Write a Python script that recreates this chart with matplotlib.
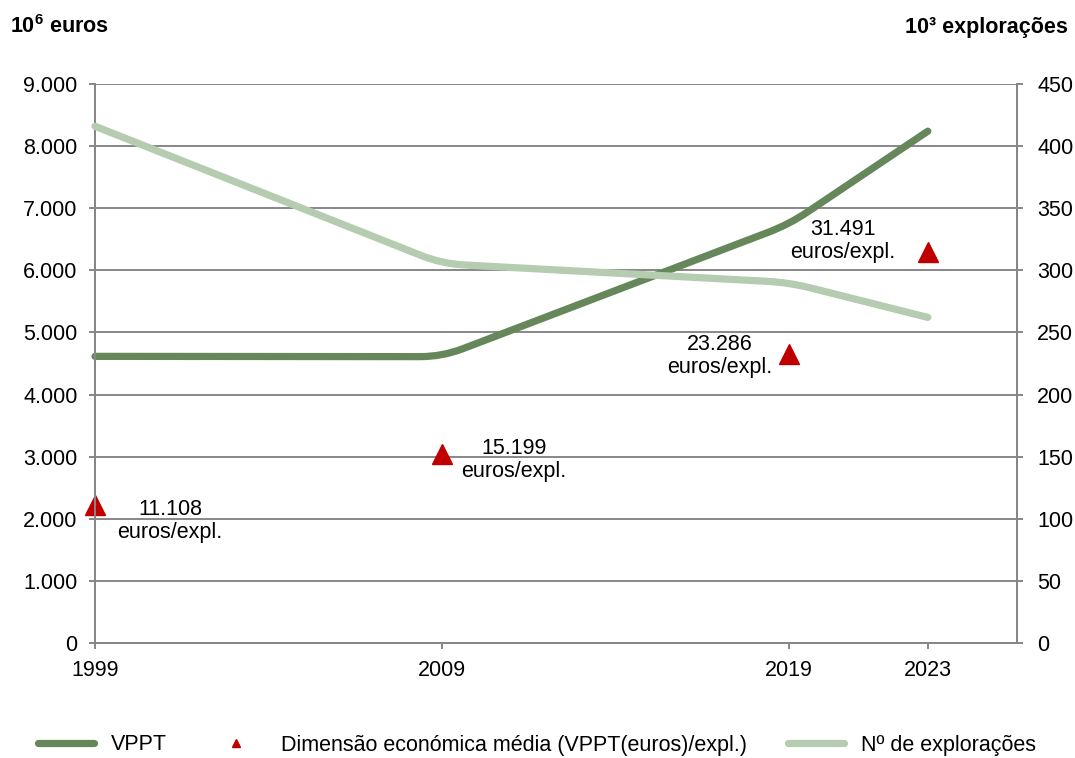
import numpy as np
import matplotlib.pyplot as plt
from matplotlib.path import Path
from matplotlib.patches import PathPatch
from matplotlib.lines import Line2D
from matplotlib.ticker import FuncFormatter

plt.rcParams['font.family'] = ['Liberation Sans', 'DejaVu Sans']
plt.rcParams['mathtext.fontset'] = 'custom'
plt.rcParams['mathtext.rm'] = 'Liberation Sans'
plt.rcParams['mathtext.bf'] = 'Liberation Sans:bold'

# data
years = [1999, 2009, 2019, 2023]
vppt = [4615, 4610, 6740, 8240]              # 10^6 euros (left axis)
exploracoes = [416.0, 305.3, 290.2, 262.1]   # 10^3 explorações (right axis)
dimensao = [11108, 15199, 23286, 31491]      # euros/expl. (drawn at value/5 on left axis)
dim_labels = ['11.108', '15.199', '23.286', '31.491']

c_vppt = '#66875A'
c_expl = '#B5CCB0'
c_tri = '#C00000'
c_grid = '#878787'
FS = 15.5


def rounded_path(a, x, y, r=22):
    # polyline with small rounded corners (Excel "smoothed line" look)
    pts = a.transData.transform(np.column_stack([x, y]))
    verts = [pts[0]]
    codes = [Path.MOVETO]
    for i in range(1, len(pts) - 1):
        p0, p1, p2 = pts[i - 1], pts[i], pts[i + 1]
        u = (p0 - p1) / np.hypot(*(p0 - p1))
        w = (p2 - p1) / np.hypot(*(p2 - p1))
        verts += [p1 + u * r, p1, p1 + w * r]
        codes += [Path.LINETO, Path.CURVE3, Path.CURVE3]
    verts.append(pts[-1])
    codes.append(Path.LINETO)
    verts = a.transData.inverted().transform(np.array(verts))
    return Path(verts, codes)


fig = plt.figure(figsize=(10.75, 7.58), dpi=100)
ax = fig.add_axes([95 / 1075, 1 - 643 / 758, (1017 - 95) / 1075, (643 - 84) / 758])
ax2 = ax.twinx()

ax.set_xlim(1999, 2025.57)
ax.set_ylim(0, 9000)
ax2.set_ylim(0, 450)

ax.set_yticks(np.arange(0, 9001, 1000))
ax2.set_yticks(np.arange(0, 451, 50))
ax.yaxis.set_major_formatter(FuncFormatter(lambda v, p: f'{v:,.0f}'.replace(',', '.')))
ax.set_xticks(years)
ax.set_xticklabels([str(y) for y in years])
ax.grid(axis='y', color=c_grid, lw=1.4)
ax.set_axisbelow(True)

for a in (ax, ax2):
    for s in a.spines.values():
        s.set_color(c_grid)
        s.set_linewidth(1.4)
    a.spines['top'].set_visible(False)
    a.tick_params(colors=c_grid, labelcolor='black', labelsize=FS, width=1.4, length=4.5)
ax.tick_params(axis='x', pad=8)
ax.tick_params(axis='y', pad=8)
ax2.tick_params(axis='y', pad=10)

ax.add_patch(PathPatch(rounded_path(ax, years, vppt), fill=False, ec=c_vppt, lw=5.2,
                       capstyle='round', joinstyle='round', clip_on=False, zorder=3))
ax.plot(years, np.array(dimensao) / 5, '^', color=c_tri, ms=14, ls='none', zorder=4, clip_on=False)
ax2.add_patch(PathPatch(rounded_path(ax2, years, exploracoes), fill=False, ec=c_expl, lw=5.2,
                        capstyle='round', joinstyle='round', clip_on=False, zorder=3))

offsets = [(75, -16), (72, -6), (-69, -2), (-85, 11)]
for yr, v, lab, off in zip(years, dimensao, dim_labels, offsets):
    ax.annotate(lab + '\neuros/expl.', xy=(yr, v / 5), xytext=off, textcoords='offset pixels',
                ha='center', va='center', multialignment='center', fontsize=FS, linespacing=1.15)

fig.text(10 / 1075, 1 - 27 / 758, r'10$^{\mathbf{6}}$ euros', fontsize=FS, fontweight='bold',
         ha='left', va='center')
fig.text(1068 / 1075, 1 - 27 / 758, '10³ explorações', fontsize=FS, fontweight='bold',
         ha='right', va='center')

handles = [Line2D([], [], color=c_vppt, lw=5.2, solid_capstyle='round'),
           Line2D([], [], color=c_tri, marker='^', ls='none', ms=6),
           Line2D([], [], color=c_expl, lw=5.2, solid_capstyle='round')]
labels = ['VPPT', 'Dimensão económica média (VPPT(euros)/expl.)', 'Nº de explorações']
fig.legend(handles, labels, loc='center', bbox_to_anchor=(537 / 1075, 1 - 745 / 758), ncol=3,
           frameon=False, fontsize=FS, handlelength=2.6, handletextpad=0.8, columnspacing=1.9)

fig.savefig('out.png', dpi=100)
